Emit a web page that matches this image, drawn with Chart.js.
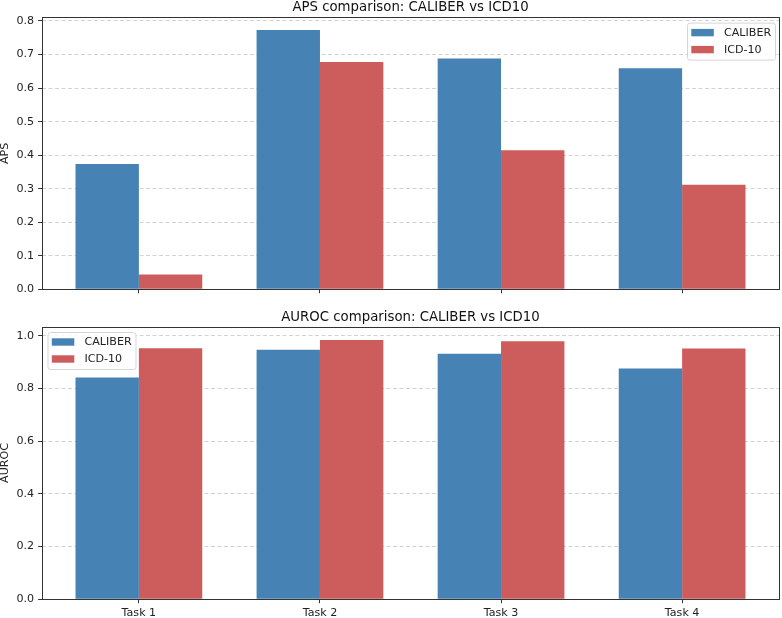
<!DOCTYPE html>
<html>
<head>
<meta charset="utf-8">
<script src="https://cdn.jsdelivr.net/npm/chart.js@4.4.0/dist/chart.umd.min.js"></script>
<style>
  html, body { margin: 0; padding: 0; background: #ffffff; }
  #wrap { position: relative; width: 782px; height: 618px; }
  canvas { position: absolute; left: 0; display: block; }
  #c1 { top: 0; }
  #c2 { top: 300px; }
</style>
</head>
<body>
<div id="wrap">
  <canvas id="c1" width="782" height="300" style="width:782px;height:300px"></canvas>
  <canvas id="c2" width="782" height="318" style="width:782px;height:318px"></canvas>
</div>
<script>
const categories = ['Task 1', 'Task 2', 'Task 3', 'Task 4'];
const seriesNames = ['CALIBER', 'ICD-10'];
const apsCaliber = [0.374, 0.773, 0.688, 0.659];
const apsIcd = [0.044, 0.678, 0.415, 0.312];
const aurocCaliber = [0.841, 0.947, 0.931, 0.875];
const aurocIcd = [0.952, 0.984, 0.979, 0.951];
const apsTicks = [0.0, 0.1, 0.2, 0.3, 0.4, 0.5, 0.6, 0.7, 0.8];
const aurocTicks = [0.0, 0.2, 0.4, 0.6, 0.8, 1.0];
const apsMax = 0.811;
const aurocMax = 1.034;
const xTicks = [0, 1, 2, 3];

const BLUE = '#4682b4';
const RED = '#cd5c5c';
const FONT = "'DejaVu Sans', sans-serif";
const FS = 11.1;
const TFS = 13.3;
Chart.defaults.font.family = FONT;
Chart.defaults.color = '#222';

function toPoints(arr) { return arr.map((v, i) => ({ x: i, y: v })); }

const framePlugin = {
  id: 'frameAndLegend',
  afterDatasetsDraw(chart, args, opts) {
    const ctx = chart.ctx;
    const a = chart.chartArea;
    ctx.save();
    ctx.strokeStyle = '#333';
    ctx.lineWidth = 1;
    ctx.strokeRect(Math.round(a.left) + 0.5, Math.round(a.top) + 0.5,
                   Math.round(a.right) - Math.round(a.left), Math.round(a.bottom) - Math.round(a.top));
    // axes title, centered on the plot area
    ctx.fillStyle = '#111';
    ctx.font = TFS + 'px ' + FONT;
    ctx.textAlign = 'center';
    ctx.textBaseline = 'alphabetic';
    ctx.fillText(opts.title, (a.left + a.right) / 2, a.top - 6);
    // legend
    const w = 88, h = 37;
    const bx = opts.side === 'right' ? a.right - 4 - w : a.left + 5.5;
    const by = a.top + 5.3;
    ctx.fillStyle = 'rgba(255,255,255,0.85)';
    ctx.strokeStyle = '#d5d5d5';
    ctx.lineWidth = 1;
    ctx.beginPath();
    if (ctx.roundRect) ctx.roundRect(bx + 0.5, by + 0.5, w, h, 2.5); else ctx.rect(bx + 0.5, by + 0.5, w, h);
    ctx.fill();
    ctx.stroke();
    ctx.font = FS + 'px ' + FONT;
    ctx.textBaseline = 'middle';
    ctx.textAlign = 'left';
    chart.data.datasets.forEach((ds, i) => {
      const cy = by + 10 + i * 17;
      ctx.fillStyle = ds.backgroundColor;
      ctx.fillRect(bx + 4.3, cy - 3.7, 22.5, 7.4);
      ctx.fillStyle = '#222';
      ctx.fillText(ds.label, bx + 37, cy + 0.5);
    });
    ctx.restore();
  }
};

function makeChart(id, title, yLabel, a, b, yTicks, yMax, showX, xAxisH, topPad, side) {
  return new Chart(document.getElementById(id), {
    type: 'bar',
    data: {
      datasets: [
        { label: seriesNames[0], data: toPoints(a), backgroundColor: BLUE, borderWidth: 0 },
        { label: seriesNames[1], data: toPoints(b), backgroundColor: RED, borderWidth: 0 }
      ]
    },
    plugins: [framePlugin],
    options: {
      responsive: false,
      animation: false,
      devicePixelRatio: 1,
      categoryPercentage: 0.7,
      barPercentage: 1.0,
      layout: { padding: { top: topPad, right: 3, left: 0, bottom: 0 } },
      plugins: {
        legend: { display: false },
        tooltip: { enabled: false },
        title: { display: false },
        frameAndLegend: { side: side, title: title }
      },
      scales: {
        x: {
          type: 'linear',
          min: -0.535, max: 3.535,
          offset: false,
          grid: { display: true, drawOnChartArea: false, drawTicks: true, tickLength: 3.9, tickColor: '#333', tickWidth: 1, offset: false },
          border: { display: false },
          afterBuildTicks: s => { s.ticks = xTicks.map(v => ({ value: v })); },
          afterFit: s => { s.height = xAxisH; },
          ticks: {
            padding: 3, color: '#222', font: { size: FS }, maxRotation: 0, autoSkip: false,
            callback: v => showX ? categories[v] : ''
          }
        },
        y: {
          min: 0, max: yMax,
          grid: { color: 'rgba(180,180,180,0.6)', lineWidth: 1, drawTicks: true, tickLength: 3.9, tickColor: '#333', tickWidth: 1 },
          border: { display: false, dash: [4, 2.5] },
          afterBuildTicks: s => { s.ticks = yTicks.map(v => ({ value: v })); },
          afterFit: s => { s.width = 42; },
          ticks: { padding: 4, color: '#222', font: { size: FS }, callback: v => Number(v).toFixed(1) },
          title: { display: true, text: yLabel, color: '#222', font: { size: FS, lineHeight: 1.0 }, padding: { top: 0, bottom: 0 } }
        }
      }
    }
  });
}

makeChart('c1', 'APS comparison: CALIBER vs ICD10', 'APS', apsCaliber, apsIcd, apsTicks, apsMax, false, 9.7, 17.3, 'right');
makeChart('c2', 'AUROC comparison: CALIBER vs ICD10', 'AUROC', aurocCaliber, aurocIcd, aurocTicks, aurocMax, true, 18.7, 26.7, 'left');
</script>
</body>
</html>
